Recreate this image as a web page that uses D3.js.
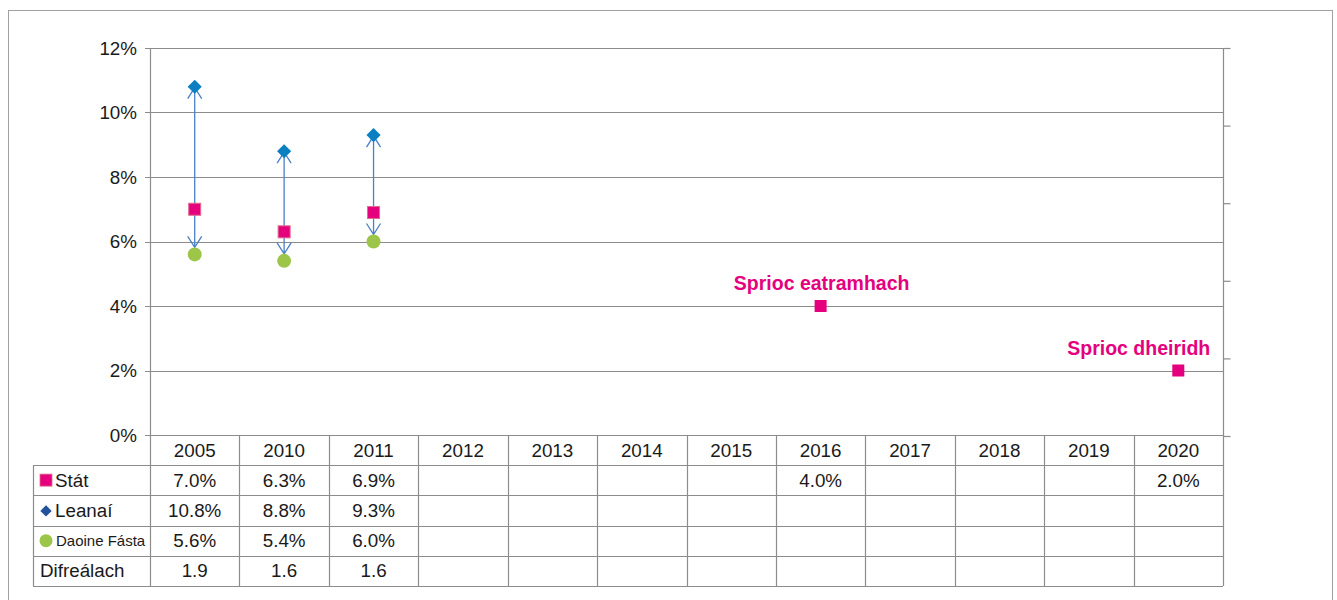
<!DOCTYPE html>
<html>
<head>
<meta charset="utf-8">
<script src="https://cdn.jsdelivr.net/npm/d3@7"></script>
<style>
body { margin: 0; background: #fff; }
svg { font-family: "Liberation Sans", Arial, sans-serif; }
</style>
</head>
<body>
<svg width="1337" height="600"></svg>
<script>
var svg = d3.select('svg');

// data
var years = ['2005', '2010', '2011', '2012', '2013', '2014', '2015', '2016', '2017', '2018', '2019', '2020'];
var stat = [7.0, 6.3, 6.9, null, null, null, null, 4.0, null, null, null, 2.0];
var leanai = [10.8, 8.8, 9.3, null, null, null, null, null, null, null, null, null];
var daoine = [5.6, 5.4, 6.0, null, null, null, null, null, null, null, null, null];
var difrealach = [1.9, 1.6, 1.6, null, null, null, null, null, null, null, null, null];
var rowNames = ['Stát', 'Leanaí', 'Daoine Fásta', 'Difreálach'];
var yTicks = [0, 2, 4, 6, 8, 10, 12];
var targetYears = ['2016', '2020'];
var targetTexts = ['Sprioc eatramhach', 'Sprioc dheiridh'];

var pink = '#e5007e';
var blue = '#0a80c2';
var green = '#9cc54a';
var arrowCol = '#4a80c8';
var gridCol = '#8c8c8c';
var textCol = '#1a1a1a';
var fs = 18.8;

var x = d3.scaleBand().domain(years).range([150, 1223]);
var y = d3.scaleLinear().domain([0, 12]).range([435, 48]);
var yRight = d3.scaleLinear().domain([0, 5]).range([436, 48]);
var row = d3.scaleBand().domain(rowNames).range([465, 586]);

// outer frame
svg.append('rect')
	.attr('x', 8.5).attr('y', 10.5)
	.attr('width', 1324).attr('height', 620)
	.attr('fill', 'none').attr('stroke', '#a0a0a0');

// gridlines
svg.append('g').selectAll('line')
	.data(yTicks)
	.enter()
	.append('line')
	.attr('x1', 145).attr('x2', 1223)
	.attr('y1', d => Math.round(y(d)) + 0.5).attr('y2', d => Math.round(y(d)) + 0.5)
	.attr('stroke', gridCol).attr('stroke-width', 1.2);

// left axis labels
svg.append('g').selectAll('text')
	.data(yTicks)
	.enter()
	.append('text')
	.attr('x', 137).attr('y', d => y(d))
	.attr('dy', '0.35em')
	.attr('text-anchor', 'end')
	.attr('font-size', fs)
	.attr('fill', textCol)
	.text(d => d + '%');

// right axis (no labels)
var rightAxis = d3.axisRight(yRight).ticks(5).tickSize(7).tickFormat('');
svg.append('g')
	.attr('transform', 'translate(1223.5,0)')
	.call(rightAxis)
	.call(g => g.selectAll('line,path').attr('stroke', gridCol).attr('stroke-width', 1.2))
	.call(g => g.select('.domain').attr('d', 'M0,48V436'));

// left axis line
svg.append('line')
	.attr('x1', 150.5).attr('x2', 150.5).attr('y1', 48).attr('y2', 586)
	.attr('stroke', gridCol).attr('stroke-width', 1.2);

// table
var tbl = svg.append('g');
var rowEdges = [row.range()[0]].concat(rowNames.map(r => row(r) + row.bandwidth()));
tbl.selectAll('line.h')
	.data(rowEdges)
	.enter()
	.append('line')
	.attr('x1', 33).attr('x2', 1223)
	.attr('y1', d => Math.round(d) + 0.5).attr('y2', d => Math.round(d) + 0.5)
	.attr('stroke', gridCol).attr('stroke-width', 1.2);
tbl.append('line')
	.attr('x1', 33.5).attr('x2', 33.5).attr('y1', 465).attr('y2', 586)
	.attr('stroke', gridCol).attr('stroke-width', 1.2);
tbl.selectAll('line.v')
	.data(years)
	.enter()
	.append('line')
	.attr('x1', d => Math.round(x(d) + x.bandwidth()) + 0.5)
	.attr('x2', d => Math.round(x(d) + x.bandwidth()) + 0.5)
	.attr('y1', 435).attr('y2', 586)
	.attr('stroke', gridCol).attr('stroke-width', 1.2);

// year headers
tbl.selectAll('text.year')
	.data(years)
	.enter()
	.append('text')
	.attr('x', d => x(d) + x.bandwidth() / 2)
	.attr('y', 450).attr('dy', '0.35em')
	.attr('text-anchor', 'middle')
	.attr('font-size', fs).attr('fill', textCol)
	.text(d => d);

// table values
var tableRows = [
	{ name: 'Stát', vals: stat, pct: true },
	{ name: 'Leanaí', vals: leanai, pct: true },
	{ name: 'Daoine Fásta', vals: daoine, pct: true },
	{ name: 'Difreálach', vals: difrealach, pct: false }
];
var fmt = d3.format('.1f');
tableRows.forEach(function (r) {
	var cy = row(r.name) + row.bandwidth() / 2;
	tbl.append('g').selectAll('text')
		.data(r.vals.map((v, i) => ({ v: v, year: years[i] })).filter(d => d.v != null))
		.enter()
		.append('text')
		.attr('x', d => x(d.year) + x.bandwidth() / 2)
		.attr('y', cy).attr('dy', '0.35em')
		.attr('text-anchor', 'middle')
		.attr('font-size', fs).attr('fill', textCol)
		.text(d => fmt(d.v) + (r.pct ? '%' : ''));
});

// row labels with legend keys
var rc = n => row(n) + row.bandwidth() / 2;
tbl.append('rect')
	.attr('x', 40).attr('y', rc('Stát') - 6).attr('width', 12).attr('height', 12)
	.attr('fill', pink).attr('stroke', '#e26a8c').attr('stroke-width', 0.8);
tbl.append('text').attr('x', 55).attr('y', rc('Stát')).attr('dy', '0.35em')
	.attr('font-size', fs).attr('fill', textCol).text('Stát');
tbl.append('rect')
	.attr('x', -4).attr('y', -4).attr('width', 8).attr('height', 8)
	.attr('transform', 'translate(46,' + (rc('Leanaí') + 0.5) + ') rotate(45)')
	.attr('fill', '#22539a');
tbl.append('text').attr('x', 55).attr('y', rc('Leanaí')).attr('dy', '0.35em')
	.attr('font-size', fs).attr('fill', textCol).text('Leanaí');
tbl.append('circle')
	.attr('cx', 46).attr('cy', rc('Daoine Fásta')).attr('r', 6.5)
	.attr('fill', green);
tbl.append('text').attr('x', 56).attr('y', rc('Daoine Fásta')).attr('dy', '0.35em')
	.attr('font-size', 15).attr('fill', textCol).text('Daoine Fásta');
tbl.append('text').attr('x', 40).attr('y', rc('Difreálach')).attr('dy', '0.35em')
	.attr('font-size', fs).attr('fill', textCol).text('Difreálach');

// arrows between Leanaí and Daoine Fásta
var plot = svg.append('g');
var arrows = years.map((yr, i) => ({ year: yr, top: leanai[i], bot: daoine[i] })).filter(d => d.top != null && d.bot != null);
arrows.forEach(function (d) {
	var cx = x(d.year) + x.bandwidth() / 2;
	var y1 = y(d.top) + 1;
	var y2 = y(d.bot) - 7;
	plot.append('path')
		.attr('d', 'M' + cx + ',' + y1 + 'V' + y2 +
			'M' + (cx - 7) + ',' + (y1 + 11) + 'L' + cx + ',' + y1 + 'L' + (cx + 7) + ',' + (y1 + 11) +
			'M' + (cx - 7) + ',' + (y2 - 11) + 'L' + cx + ',' + y2 + 'L' + (cx + 7) + ',' + (y2 - 11))
		.attr('fill', 'none').attr('stroke', arrowCol).attr('stroke-width', 1.3);
});

// Daoine Fásta circles
plot.selectAll('circle.d')
	.data(years.map((yr, i) => ({ year: yr, v: daoine[i] })).filter(d => d.v != null))
	.enter()
	.append('circle')
	.attr('cx', d => x(d.year) + x.bandwidth() / 2)
	.attr('cy', d => y(d.v))
	.attr('r', 7)
	.attr('fill', green);

// Stát squares
plot.selectAll('rect.s')
	.data(years.map((yr, i) => ({ year: yr, v: stat[i] })).filter(d => d.v != null))
	.enter()
	.append('rect')
	.attr('x', d => x(d.year) + x.bandwidth() / 2 - 6)
	.attr('y', d => y(d.v) - 6)
	.attr('width', 12).attr('height', 12)
	.attr('fill', pink)
	.attr('stroke', d => targetYears.includes(d.year) ? 'none' : '#e26a8c')
	.attr('stroke-width', 1);

// Leanaí diamonds
plot.selectAll('rect.l')
	.data(years.map((yr, i) => ({ year: yr, v: leanai[i] })).filter(d => d.v != null))
	.enter()
	.append('rect')
	.attr('x', -5).attr('y', -5).attr('width', 10).attr('height', 10)
	.attr('transform', d => 'translate(' + (x(d.year) + x.bandwidth() / 2) + ',' + y(d.v) + ') rotate(45)')
	.attr('fill', blue);

// target labels
plot.selectAll('text.t')
	.data(targetYears.map((yr, i) => ({ year: yr, text: targetTexts[i], v: stat[years.indexOf(yr)] })))
	.enter()
	.append('text')
	.attr('x', (d, i) => i === 0 ? x(d.year) + x.bandwidth() / 2 + 1 : x(d.year) + x.bandwidth() / 2 + 32)
	.attr('y', d => y(d.v) - 16)
	.attr('text-anchor', (d, i) => i === 0 ? 'middle' : 'end')
	.attr('font-size', 19.5).attr('font-weight', 'bold')
	.attr('fill', pink)
	.text(d => d.text);
</script>
</body>
</html>
